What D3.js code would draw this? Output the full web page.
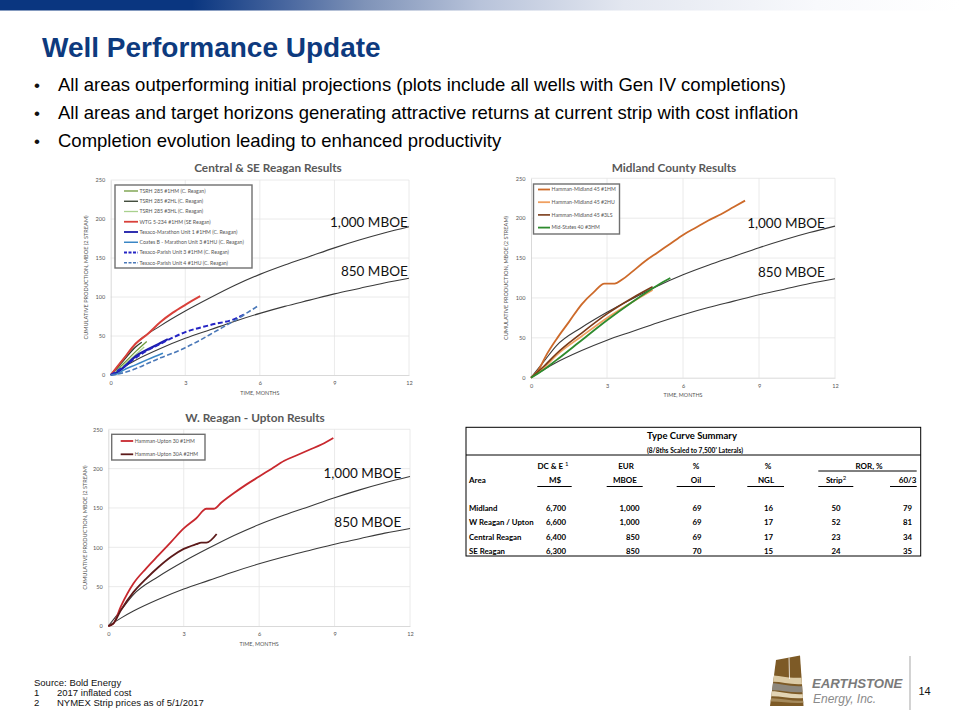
<!DOCTYPE html>
<html><head><meta charset="utf-8">
<script src="https://cdn.jsdelivr.net/npm/d3@7"></script>
<style>body{margin:0;background:#fff}svg{display:block}</style>
</head><body>
<svg id="slide" width="960" height="720"></svg>
<script>
// ---------- DATA ----------
const xTicks = [0, 3, 6, 9, 12];
const yTicks = [0, 50, 100, 150, 200, 250];

const typeCurve1000 = [[0,0],[0.5,20],[1,40],[2,63],[3,82],[4,99],[5,115],[6,129],[7,141],[8,152],[9,163],[10,173],[11,182],[12,190]];
const typeCurve850  = [[0,0],[0.5,10],[1,19],[2,34],[3,47],[4,58],[5,69],[6,79],[7,88],[8,96],[9,104],[10,111],[11,118],[12,124]];

// Central & SE Reagan wells
const tsrh1HM   = [[0,0],[0.5,14],[1,30],[1.45,43]];
const tsrh2HL   = [[0,0],[0.5,18],[1,36],[1.25,42]];
const tsrh3HL   = [[0,0],[0.5,12],[1,26],[1.35,36]];
const wtg1HM    = [[0,0],[0.5,20],[1,40],[1.5,53],[2,68],[2.5,80],[3,90],[3.6,101]];
const marathon1 = [[0,0],[0.3,4],[0.6,12],[1,24],[1.5,33],[2,41],[2.3,46]];
const coatesB   = [[0,0],[0.3,2],[0.5,6],[1,13],[1.5,20],[2.1,28]];
const parish3   = [[0,0],[0.5,10],[1,22],[1.5,32],[2,40],[2.5,48],[3,55],[4,64],[5,72],[5.4,78]];
const parish4   = [[0,0],[0.4,2],[1,8],[1.5,15],[2,22],[2.5,28],[3,35],[3.5,43],[4,52],[4.5,61],[5,70],[5.5,80],[5.9,88]];

// Midland County wells
const midland1HM = [[0,0],[0.3,10],[0.6,28],[1,48],[1.5,70],[2,92],[2.5,108],[2.9,118],[3.3,118],[3.6,123],[4,133],[4.5,146],[5,157],[5.5,168],[6,179],[6.5,188],[7,197],[7.5,205],[8,214],[8.45,222]];
const midland2HU = [[0,0],[0.5,12],[1,28],[2,52],[3,75],[4,95],[4.8,110]];
const midland3LS = [[0,0],[0.5,14],[1,30],[2,56],[3,80],[4,100],[4.8,114]];
const midStates3HM = [[0,0],[0.5,10],[1,22],[2,47],[3,72],[4,95],[5,116],[5.5,125]];

// W. Reagan - Upton wells
const upton1HM  = [[0,0],[0.2,3],[0.5,25],[1,54],[1.5,73],[2,90],[2.5,107],[3,124],[3.5,137],[3.9,149],[4.2,149],[4.5,157],[5,169],[5.5,180],[6,190],[6.5,200],[7,210],[7.5,217],[8,224],[8.5,231],[8.95,239]];
const upton2HM  = [[0,0],[0.2,3],[0.5,20],[1,43],[1.5,60],[2,75],[2.5,88],[3,98],[3.5,104],[3.7,106],[3.9,106],[4.31,117]];

// Table
const tableAreas = ["Midland", "W Reagan / Upton", "Central Reagan", "SE Reagan"];
const tableDCE   = ["6,700", "6,600", "6,400", "6,300"];
const tableEUR   = ["1,000", "1,000", "850", "850"];
const tableOil   = [69, 69, 69, 70];
const tableNGL   = [16, 17, 17, 15];
const tableStrip = [50, 52, 23, 24];
const table603   = [79, 81, 34, 35];

const bullets = [
  "All areas outperforming initial projections (plots include all wells with Gen IV completions)",
  "All areas and target horizons generating attractive returns at current strip with cost inflation",
  "Completion evolution leading to enhanced productivity"
];
const footnotes = [["1", "2017 inflated cost"], ["2", "NYMEX Strip prices as of 5/1/2017"]];

// ---------- DRAW ----------
const svg = d3.select("#slide");
const CF = "Lato, 'Open Sans', sans-serif";
const AF = "'Liberation Sans', Arial, sans-serif";

// header gradient bar
const defs = svg.append("defs");
const grad = defs.append("linearGradient").attr("id", "hdr").attr("x1", 0).attr("x2", 1).attr("y1", 0).attr("y2", 0);
[[0,"#0a3680"],[0.2,"#0a3680"],[0.3,"#4a68a0"],[0.38,"#7f93b8"],[0.5,"#b8c3da"],[0.65,"#e3e7f0"],[0.85,"#f8f9fc"],[1,"#ffffff"]]
  .forEach(([o,c]) => grad.append("stop").attr("offset", o).attr("stop-color", c));
svg.append("rect").attr("x", 0).attr("y", 0).attr("width", 960).attr("height", 10.5).attr("fill", "url(#hdr)");

svg.append("text").attr("x", 42).attr("y", 57).attr("font-family", AF).attr("font-weight", "bold")
  .attr("font-size", 28).attr("fill", "#0d3a7e").text("Well Performance Update");

bullets.forEach((b, i) => {
  const yy = 91 + i * 28;
  svg.append("text").attr("x", 34).attr("y", yy).attr("font-family", AF).attr("font-size", 17).attr("fill", "#111").text("•");
  svg.append("text").attr("x", 58).attr("y", yy).attr("font-family", AF).attr("font-size", 18.5).attr("fill", "#000").text(b);
});

function drawChart(cfg) {
  const g = svg.append("g");
  const x = d3.scaleLinear().domain([0, 12]).range([cfg.left, cfg.right]);
  const y = d3.scaleLinear().domain([0, 250]).range([cfg.bottom, cfg.top]);

  g.append("g").selectAll("line").data(xTicks.slice(1)).join("line")
    .attr("x1", d => x(d)).attr("x2", d => x(d)).attr("y1", y(0)).attr("y2", y(250))
    .attr("stroke", "#e4e4e4").attr("stroke-width", 0.8);
  g.append("g").selectAll("line").data(yTicks.slice(1)).join("line")
    .attr("x1", x(0)).attr("x2", x(12)).attr("y1", d => y(d)).attr("y2", d => y(d))
    .attr("stroke", "#e4e4e4").attr("stroke-width", 0.8);

  const styleAxis = s => {
    s.select(".domain").attr("stroke", "#cfcfcf").attr("stroke-width", 0.8);
    s.selectAll("text").attr("font-family", CF).attr("font-size", 5.6).attr("fill", "#555");
  };
  g.append("g").attr("transform", `translate(0,${cfg.bottom})`)
    .call(d3.axisBottom(x).tickValues(xTicks).tickSize(0).tickPadding(6.5)).call(styleAxis);
  g.append("g").attr("transform", `translate(${cfg.left},0)`)
    .call(d3.axisLeft(y).tickValues(yTicks).tickSize(0).tickPadding(5.5)).call(styleAxis);

  g.append("text").attr("x", (cfg.left + cfg.right) / 2).attr("y", cfg.bottom + 19.5)
    .attr("text-anchor", "middle").attr("font-family", CF).attr("font-size", 5.4).attr("fill", "#555")
    .text("TIME, MONTHS");
  g.append("text").attr("transform", `translate(${cfg.ylabX},${(cfg.top + cfg.bottom) / 2}) rotate(-90)`)
    .attr("text-anchor", "middle").attr("font-family", CF).attr("font-size", 5.6).attr("fill", "#555")
    .text("CUMULATIVE PRODUCTION, MBOE (2 STREAM)");

  g.append("text").attr("x", cfg.titleX).attr("y", cfg.titleY).attr("text-anchor", "middle")
    .attr("font-family", CF).attr("font-weight", "bold").attr("font-size", 11.8).attr("fill", "#595959")
    .text(cfg.title);

  const line = d3.line().x(d => x(d[0])).y(d => y(d[1])).curve(d3.curveMonotoneX);
  [typeCurve1000, typeCurve850].forEach(tc =>
    g.append("path").attr("d", line(tc)).attr("fill", "none").attr("stroke", "#3a3a3a").attr("stroke-width", 1.1));

  cfg.series.forEach(s => {
    g.append("path").attr("d", line(s.data)).attr("fill", "none").attr("stroke", s.color)
      .attr("stroke-width", s.w).attr("stroke-dasharray", s.dash || null).attr("stroke-linejoin", "round");
  });

  // legend
  const L = cfg.legend;
  g.append("rect").attr("x", L.x).attr("y", L.y).attr("width", L.w).attr("height", L.h)
    .attr("fill", "#fff").attr("stroke", "#707070").attr("stroke-width", 1.4);
  cfg.series.forEach((s, i) => {
    const yy = L.y + L.first + i * L.step;
    g.append("line").attr("x1", L.x + L.lx0).attr("x2", L.x + L.lx1).attr("y1", yy).attr("y2", yy)
      .attr("stroke", s.color).attr("stroke-width", Math.min(s.w, 1.8)).attr("stroke-dasharray", s.dash ? "3,1.5" : null);
    g.append("text").attr("x", L.x + L.lx1 + 1.5).attr("y", yy + 1.8).attr("font-family", CF)
      .attr("font-size", 5.2).attr("fill", "#555").text(s.name);
  });

  // type curve labels
  const lab = (t, v) => g.append("text").attr("x", x(cfg.labX)).attr("y", y(v)).attr("text-anchor", "end")
    .attr("font-family", CF).attr("font-size", 13.5).attr("fill", "#111").text(t);
  lab("1,000 MBOE", cfg.lab1000);
  lab("850 MBOE", cfg.lab850);
}

drawChart({
  left: 110.7, right: 409, top: 180, bottom: 375, ylabX: 88,
  title: "Central & SE Reagan Results", titleX: 268, titleY: 171.5,
  labX: 11.95, lab1000: 190, lab850: 127,
  legend: { x: 115, y: 185, w: 137, h: 83, first: 6, step: 10.25, lx0: 9, lx1: 23 },
  series: [
    { name: "TSRH 285 #1HM (C. Reagan)", data: tsrh1HM, color: "#6f9a3c", w: 1.3 },
    { name: "TSRH 285 #2HL (C. Reagan)", data: tsrh2HL, color: "#2f3a2a", w: 1.3 },
    { name: "TSRH 285 #3HL (C. Reagan)", data: tsrh3HL, color: "#a9d18e", w: 1.3 },
    { name: "WTG 5-234 #1HM (SE Reagan)", data: wtg1HM, color: "#d9403a", w: 2 },
    { name: "Texaco-Marathon Unit 1 #1HM (C. Reagan)", data: marathon1, color: "#1a1aa8", w: 2.2 },
    { name: "Coates B - Marathon Unit 3 #1HU (C. Reagan)", data: coatesB, color: "#3a86c4", w: 1.5 },
    { name: "Texaco-Parish Unit 3 #1HM (C. Reagan)", data: parish3, color: "#2424c4", w: 2, dash: "5,2.5" },
    { name: "Texaco-Parish Unit 4 #1HU (C. Reagan)", data: parish4, color: "#4a78b8", w: 1.6, dash: "5,2.5" }
  ]
});

drawChart({
  left: 531, right: 835, top: 178.3, bottom: 377.7, ylabX: 508,
  title: "Midland County Results", titleX: 674, titleY: 171.5,
  labX: 11.6, lab1000: 188, lab850: 126,
  legend: { x: 533.5, y: 184, w: 86, h: 50, first: 5.5, step: 12.7, lx0: 4.5, lx1: 16.5 },
  series: [
    { name: "Hamman-Midland 45 #1HM", data: midland1HM, color: "#cd6a2a", w: 1.8 },
    { name: "Hamman-Midland 45 #2HU", data: midland2HU, color: "#f0a060", w: 1.8 },
    { name: "Hamman-Midland 45 #3LS", data: midland3LS, color: "#7a3a18", w: 1.6 },
    { name: "Mid-States 40 #3HM", data: midStates3HM, color: "#2e8b2e", w: 1.8 }
  ]
});

drawChart({
  left: 108.3, right: 410, top: 429.3, bottom: 626, ylabX: 86.5,
  title: "W. Reagan - Upton Results", titleX: 255, titleY: 422,
  labX: 11.65, lab1000: 188.5, lab850: 126,
  legend: { x: 111.7, y: 434.3, w: 93.3, h: 25.7, first: 6.7, step: 13.3, lx0: 9, lx1: 21.5 },
  series: [
    { name: "Hamman-Upton 30 #1HM", data: upton1HM, color: "#c8282e", w: 1.8 },
    { name: "Hamman-Upton 30A #2HM", data: upton2HM, color: "#5c1a1a", w: 1.8 }
  ]
});

// ---------- TABLE ----------
const T = svg.append("g").attr("font-family", CF).attr("fill", "#000");
const tb = { x0: 466, x1: 920.7, y0: 427.3, y1: 556 };
T.append("rect").attr("x", tb.x0).attr("y", tb.y0).attr("width", tb.x1 - tb.x0).attr("height", tb.y1 - tb.y0)
  .attr("fill", "none").attr("stroke", "#000").attr("stroke-width", 1);
T.append("line").attr("x1", tb.x0).attr("x2", tb.x1).attr("y1", 455).attr("y2", 455).attr("stroke", "#000").attr("stroke-width", 1);
T.append("text").attr("x", 692).attr("y", 438.5).attr("text-anchor", "middle").attr("font-weight", "bold").attr("font-size", 9.5).text("Type Curve Summary");
T.append("text").attr("x", 695).attr("y", 453.3).attr("text-anchor", "middle").attr("font-weight", "bold").attr("font-size", 6.6).text("(8/8ths Scaled to 7,500' Laterals)");

const hdr = (t, xx, yy, anchor) => T.append("text").attr("x", xx).attr("y", yy).attr("text-anchor", anchor)
  .attr("font-weight", "bold").attr("font-size", 8).text(t);
const sup = (el, s) => el.append("tspan").attr("dy", -3).attr("font-size", 6).attr("font-weight", "normal").text(s);
sup(hdr("DC & E ", 553, 468.5, "middle"), "1");
hdr("EUR", 626, 468.5, "middle");
hdr("%", 696, 468.5, "middle");
hdr("%", 768, 468.5, "middle");
hdr("ROR, %", 869, 468.5, "middle");
hdr("Area", 469, 483, "start");
hdr("M$", 555, 483, "middle");
hdr("MBOE", 625, 483, "middle");
hdr("Oil", 696, 483, "middle");
hdr("NGL", 766, 483, "middle");
sup(hdr("Strip", 836, 483, "middle"), "2");
hdr("60/3", 916.5, 483, "end");

[[537.3,571.7],[606.7,642.7],[676.7,715],[747.3,784],[818.3,853.3],[890,916.7]].forEach(([a, b]) =>
  T.append("line").attr("x1", a).attr("x2", b).attr("y1", 486.5).attr("y2", 486.5).attr("stroke", "#000").attr("stroke-width", 1));
T.append("line").attr("x1", 818.3).attr("x2", 916.7).attr("y1", 471).attr("y2", 471).attr("stroke", "#000").attr("stroke-width", 1);

const rowY = [511, 525.5, 540, 554];
const cell = (t, xx, yy, anchor) => T.append("text").attr("x", xx).attr("y", yy).attr("text-anchor", anchor)
  .attr("font-weight", "bold").attr("font-size", 7.8).text(t);
tableAreas.forEach((a, i) => {
  const yy = rowY[i] - 0.5;
  cell(a, 469, yy, "start");
  cell(tableDCE[i], 556, yy, "middle");
  cell(tableEUR[i], 639.5, yy, "end");
  cell(tableOil[i], 697, yy, "middle");
  cell(tableNGL[i], 768.5, yy, "middle");
  cell(tableStrip[i], 836, yy, "middle");
  cell(table603[i], 912, yy, "end");
});

// ---------- FOOTER ----------
const NF = "'Liberation Sans Narrow', 'Arial Narrow', 'Liberation Sans', sans-serif";
svg.append("text").attr("x", 34).attr("y", 686).attr("font-family", NF).attr("font-size", 9.5).attr("fill", "#111").text("Source:  Bold Energy");
footnotes.forEach(([n, t], i) => {
  svg.append("text").attr("x", 34).attr("y", 696 + i * 10).attr("font-family", NF).attr("font-size", 9.5).attr("fill", "#111").text(n);
  svg.append("text").attr("x", 57).attr("y", 696 + i * 10).attr("font-family", NF).attr("font-size", 9.5).attr("fill", "#111").text(t);
});

// logo
const lg = svg.append("g");
defs.append("clipPath").attr("id", "logoClip").append("path").attr("d", "M776,660 L800,655.5 L803.5,706 L770,706 Z");
const lc = lg.append("g").attr("clip-path", "url(#logoClip)");
lc.append("rect").attr("x", 765).attr("y", 650).attr("width", 45).attr("height", 60).attr("fill", "#7d5a26");
lc.append("path").attr("d", "M765,676 C775,673 785,680 810,677 L810,683 C790,687 778,679 765,683 Z").attr("fill", "#dccba6");
lc.append("path").attr("d", "M765,684 C778,681 790,689 810,685 L810,691 C792,695 778,688 765,691 Z").attr("fill", "#8d877c");
lc.append("path").attr("d", "M765,692 C778,689 792,697 810,693 L810,697 C792,701 778,694 765,697 Z").attr("fill", "#e2d4b4");
lc.append("path").attr("d", "M765,699 C778,696 792,703 810,700 L810,702 C792,705 778,700 765,702 Z").attr("fill", "#a58a5c");
lc.append("line").attr("x1", 789).attr("x2", 789.5).attr("y1", 656).attr("y2", 679).attr("stroke", "#fff").attr("stroke-width", 0.8);
svg.append("text").attr("x", 812).attr("y", 688).attr("font-family", AF).attr("font-weight", "bold").attr("font-style", "italic")
  .attr("font-size", 13.2).attr("fill", "#7a7a7a").text("EARTHSTONE");
svg.append("text").attr("x", 813).attr("y", 702.5).attr("font-family", AF).attr("font-style", "italic")
  .attr("font-size", 12).attr("fill", "#8a8a8a").text("Energy, Inc.");
svg.append("line").attr("x1", 910).attr("x2", 910).attr("y1", 656).attr("y2", 710).attr("stroke", "#bbb").attr("stroke-width", 1.3);
svg.append("text").attr("x", 918.5).attr("y", 695).attr("font-family", AF).attr("font-size", 11).attr("fill", "#111").text("14");
</script>
</body></html>
